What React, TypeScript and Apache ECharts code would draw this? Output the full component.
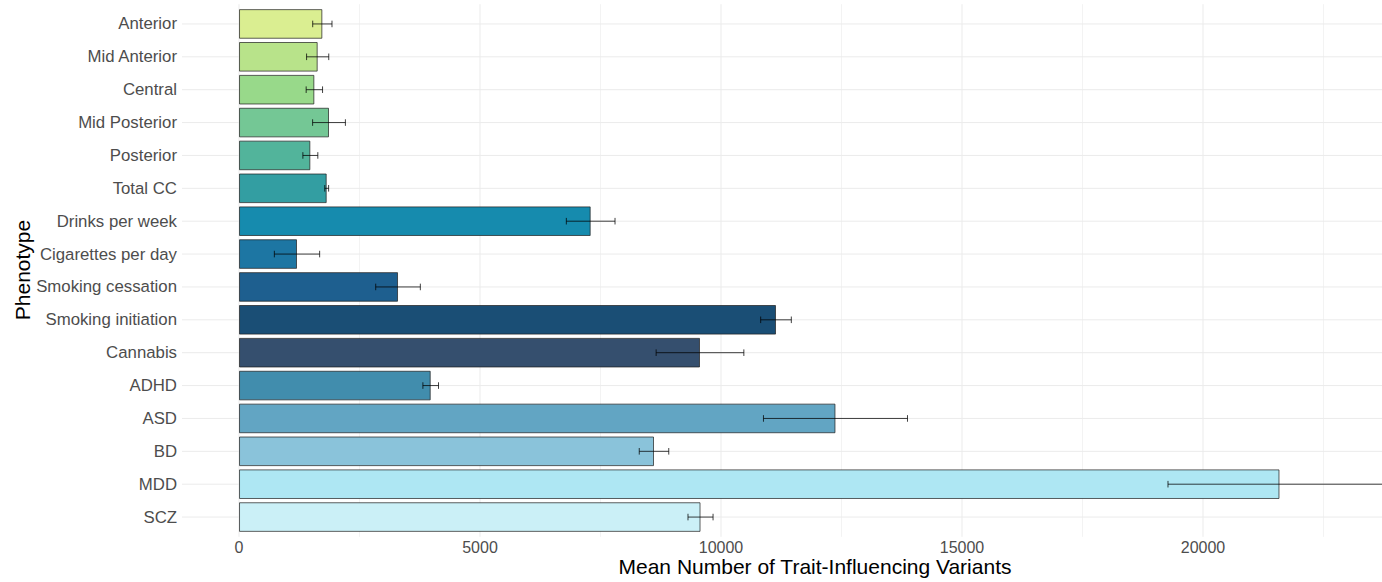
import React, { useEffect, useRef } from "react";
import * as echarts from "echarts";

const categories = [
  "Anterior", "Mid Anterior", "Central", "Mid Posterior", "Posterior", "Total CC",
  "Drinks per week", "Cigarettes per day", "Smoking cessation", "Smoking initiation",
  "Cannabis", "ADHD", "ASD", "BD", "MDD", "SCZ",
];
const means = [1729, 1632, 1563, 1867, 1480, 1819, 7296, 1203, 3299, 11141, 9564, 3977, 12375, 8610, 21587, 9575];
const errors = [200, 230, 170, 340, 155, 40, 505, 470, 463, 318, 910, 162, 1494, 306, 2313, 260];
const barColors = [
  "#DAEE91", "#B8E38A", "#98D98A", "#74C795", "#52B49B", "#339EA2",
  "#168BAE", "#1D76A3", "#1E5F8F", "#1A4E75", "#354F6E", "#418DAD",
  "#62A5C3", "#8AC3DA", "#AEE7F3", "#CBF0F7",
];
const majorTicks = [0, 5000, 10000, 15000, 20000];
const minorTicks = [2500, 7500, 12500, 17500, 22500];
const xMin = -1183;
const xMax = 23714;

export default function App() {
  const ref = useRef<HTMLDivElement>(null);

  useEffect(() => {
    const chart = echarts.init(ref.current!, null, { renderer: "svg" });
    const ext = 3.3;

    const option: any = {
      animation: false,
      backgroundColor: "#ffffff",
      textStyle: { fontFamily: "Liberation Sans, Arial, sans-serif" },
      grid: { left: 182, width: 1200, top: 7.5, height: 526, containLabel: false },
      xAxis: {
        type: "value",
        min: xMin,
        max: xMax,
        axisLine: { show: false },
        axisTick: { show: false },
        splitLine: { show: false },
        axisLabel: {
          customValues: majorTicks,
          formatter: (v: number) => String(v),
          color: "#4D4D4D",
          fontSize: 16,
          margin: 6,
        },
      },
      yAxis: {
        type: "category",
        data: categories,
        inverse: true,
        axisLine: { show: false },
        axisTick: { show: false },
        splitLine: { show: false },
        axisLabel: { color: "#4D4D4D", fontSize: 16.8, margin: 5 },
      },
      graphic: [
        {
          type: "text",
          x: 815,
          y: 566,
          style: {
            text: "Mean Number of Trait-Influencing Variants",
            fill: "#000000",
            fontSize: 21,
            fontFamily: "Liberation Sans, Arial, sans-serif",
            textAlign: "center",
            textVerticalAlign: "middle",
          },
        },
        {
          type: "text",
          x: 22,
          y: 270,
          rotation: Math.PI / 2,
          style: {
            text: "Phenotype",
            fill: "#000000",
            fontSize: 21,
            fontFamily: "Liberation Sans, Arial, sans-serif",
            textAlign: "center",
            textVerticalAlign: "middle",
          },
        },
      ],
      series: [
        {
          type: "custom",
          name: "vgrid",
          z: 0,
          silent: true,
          data: [
            ...majorTicks.map((v) => [v, 1, 0]),
            ...minorTicks.map((v) => [v, 0, 0]),
          ],
          encode: { x: 0, y: 2 },
          renderItem: (params: any, api: any) => {
            const cs = params.coordSys;
            const x = api.coord([api.value(0), 0])[0];
            const major = api.value(1) === 1;
            return {
              type: "line",
              shape: { x1: x, y1: cs.y - ext, x2: x, y2: cs.y + cs.height + ext },
              style: { stroke: major ? "#EBEBEB" : "#F3F3F3", lineWidth: 1 },
            };
          },
        },
        {
          type: "custom",
          name: "hgrid",
          z: 0,
          silent: true,
          data: categories.map((_, i) => [0, i]),
          encode: { x: 0, y: 1 },
          renderItem: (params: any, api: any) => {
            const cs = params.coordSys;
            const y = api.coord([0, api.value(1)])[1];
            return {
              type: "line",
              shape: { x1: cs.x, y1: y, x2: cs.x + cs.width, y2: y },
              style: { stroke: "#EBEBEB", lineWidth: 1 },
            };
          },
        },
        {
          type: "bar",
          name: "mean",
          z: 2,
          barWidth: 29.6,
          data: means.map((v, i) => ({
            value: v,
            itemStyle: {
              color: barColors[i],
              borderColor: "rgba(30,30,30,0.7)",
              borderWidth: 1,
            },
          })),
        },
        {
          type: "custom",
          name: "error",
          z: 3,
          clip: true,
          data: means.map((m, i) => [m - errors[i], m + errors[i], i]),
          encode: { x: [0, 1], y: 2 },
          renderItem: (params: any, api: any) => {
            const lo = api.coord([api.value(0), api.value(2)]);
            const hi = api.coord([api.value(1), api.value(2)]);
            const h = api.size([0, 1])[1] * 0.1;
            const style = { stroke: "rgba(0,0,0,0.75)", lineWidth: 1, fill: "none" };
            return {
              type: "group",
              children: [
                { type: "line", shape: { x1: lo[0], y1: lo[1], x2: hi[0], y2: hi[1] }, style },
                { type: "line", shape: { x1: lo[0], y1: lo[1] - h, x2: lo[0], y2: lo[1] + h }, style },
                { type: "line", shape: { x1: hi[0], y1: hi[1] - h, x2: hi[0], y2: hi[1] + h }, style },
              ],
            };
          },
        },
      ],
    };

    chart.setOption(option);
    return () => chart.dispose();
  }, []);

  return (
    <div
      ref={ref}
      style={{ position: "fixed", left: 0, top: 0, width: 1382, height: 582, background: "#fff" }}
    />
  );
}
